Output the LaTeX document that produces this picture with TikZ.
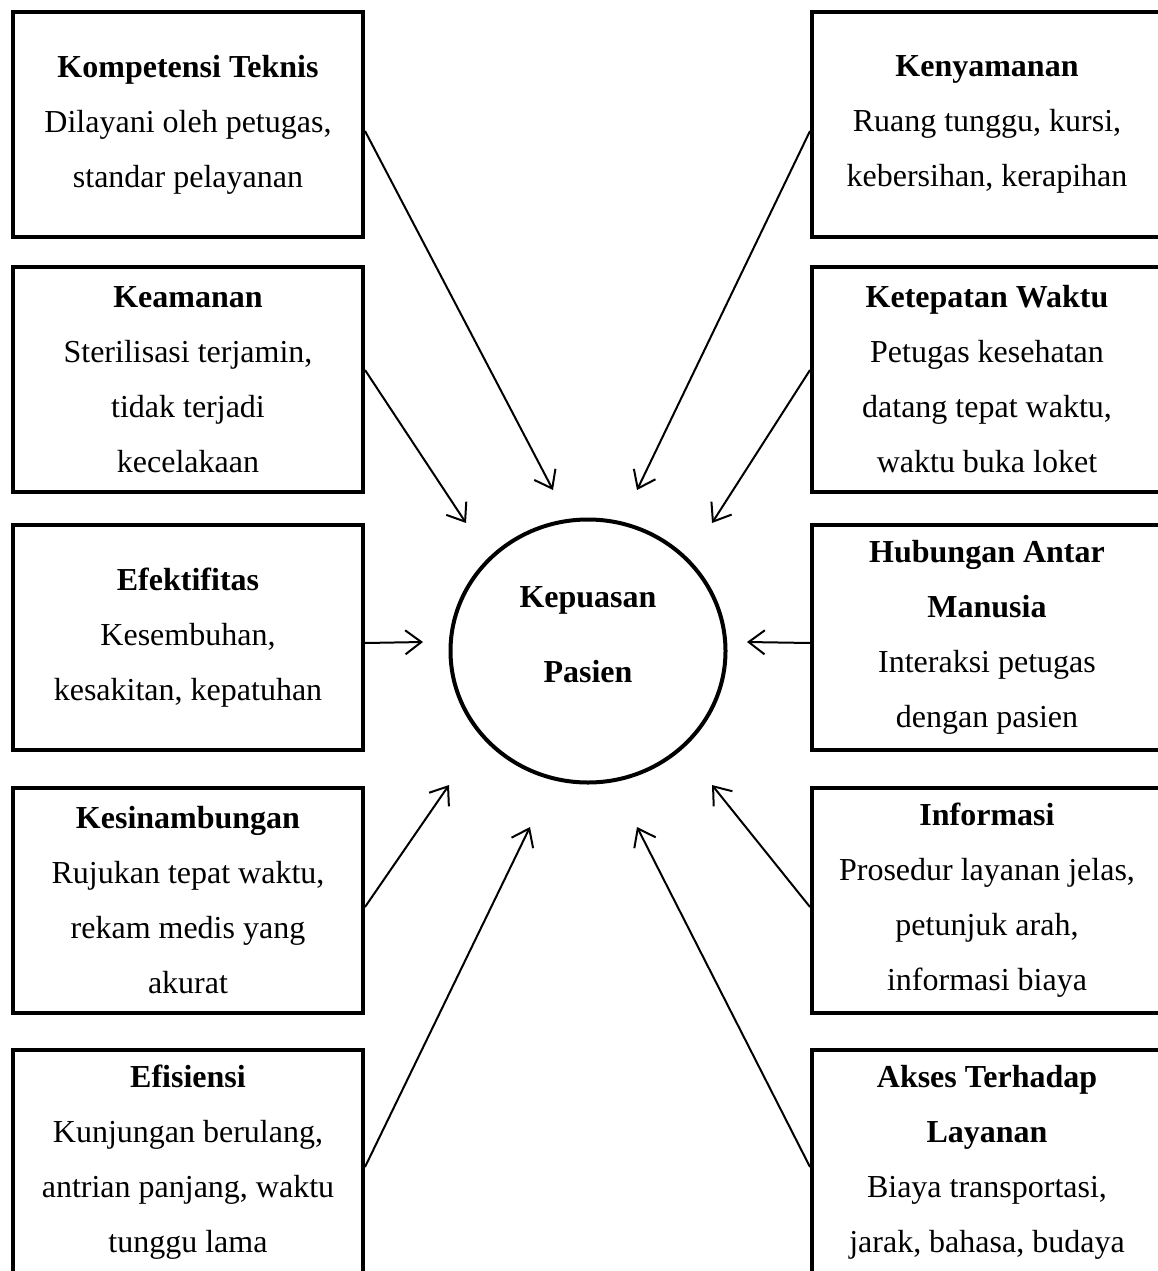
\documentclass[tikz,border=0pt]{standalone}
\usepackage{fontspec}
\setmainfont{Liberation Serif}
\usetikzlibrary{shapes.geometric,arrows.meta}

\begin{document}
\begin{tikzpicture}[x=1pt,y=-1pt,
  factor/.style={rectangle,draw,line width=4pt,minimum width=350pt,minimum height=225pt,
    inner sep=0pt,align=center,font=\fontsize{32}{55}\selectfont},
  link/.style={line width=2pt,-{Straight Barb[length=16pt,width=24pt]}}]

\useasboundingbox (0,0) rectangle (1157,1271);

% left column
\node[factor] (kt) at (188,124.5) {{\bfseries Kompetensi Teknis}\\Dilayani oleh petugas,\\standar pelayanan};
\node[factor] (ka) at (188,379.5) {{\bfseries Keamanan}\\Sterilisasi terjamin,\\tidak terjadi\\kecelakaan};
\node[factor] (ef) at (188,637.5) {{\bfseries Efektifitas}\\Kesembuhan,\\kesakitan, kepatuhan};
\node[factor] (ks) at (188,900.5) {{\bfseries Kesinambungan}\\Rujukan tepat waktu,\\rekam medis yang\\akurat};
\node[factor] (es) at (188,1162.5) {{\bfseries Efisiensi}\\Kunjungan berulang,\\antrian panjang, waktu\\tunggu lama};

% right column
\node[factor] (ky) at (987,124.5) {{\bfseries Kenyamanan}\\Ruang tunggu, kursi,\\kebersihan, kerapihan};
\node[factor] (kw) at (987,379.5) {{\bfseries Ketepatan Waktu}\\Petugas kesehatan\\datang tepat waktu,\\waktu buka loket};
\node[factor] (hm) at (987,637.5) {{\bfseries Hubungan Antar}\\{\bfseries Manusia}\\Interaksi petugas\\dengan pasien};
\node[factor] (inf) at (987,900.5) {{\bfseries Informasi}\\Prosedur layanan jelas,\\petunjuk arah,\\informasi biaya};
\node[factor] (al) at (987,1162.5) {{\bfseries Akses Terhadap}\\{\bfseries Layanan}\\Biaya transportasi,\\jarak, bahasa, budaya};

% centre
\node[ellipse,draw,line width=4pt,minimum width=275pt,minimum height=263pt] (kp) at (588,651) {};
\node[align=center,font=\fontsize{32}{75}\selectfont\bfseries] (kptext) at (588,635) {Kepuasan\\Pasien};

\coordinate (t1) at (553,490);  \coordinate (t6) at (637,490);
\coordinate (t2) at (466,523);  \coordinate (t7) at (712,523);
\coordinate (t3) at (423,642);  \coordinate (t8) at (747,642);
\coordinate (t4) at (449,785);  \coordinate (t9) at (712,785);
\coordinate (t5) at (530,827);  \coordinate (t10) at (637,827);

\draw[link] ([yshift=-6.5pt]kt.east) -- (t1);
\draw[link] ([yshift=9.5pt]ka.east) -- (t2);
\draw[link] ([yshift=-5.5pt]ef.east) -- (t3);
\draw[link] ([yshift=-6.5pt]ks.east) -- (t4);
\draw[link] ([yshift=-4.5pt]es.east) -- (t5);
\draw[link] ([yshift=-6.5pt]ky.west) -- (t6);
\draw[link] ([yshift=9.5pt]kw.west) -- (t7);
\draw[link] ([yshift=-5.5pt]hm.west) -- (t8);
\draw[link] ([yshift=-6.5pt]inf.west) -- (t9);
\draw[link] ([yshift=-4.5pt]al.west) -- (t10);
\end{tikzpicture}
\end{document}
